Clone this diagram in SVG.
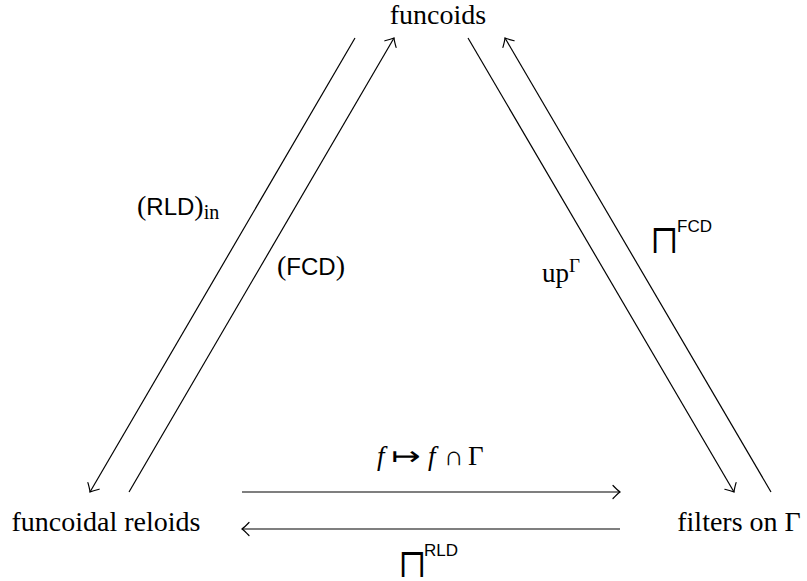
<svg xmlns="http://www.w3.org/2000/svg" width="807" height="581" viewBox="0 0 807 581">
<style>
.node{font-family:"Liberation Serif","Times New Roman",serif;font-size:28px;fill:#000}
.lbl{font-family:"Liberation Serif","Times New Roman",serif;font-size:27px;fill:#000}
.sf{font-family:"Liberation Sans",Arial,sans-serif}
.sup{font-family:"Liberation Sans",Arial,sans-serif;font-size:17px;fill:#000}
.op{font-family:"DejaVu Sans",sans-serif;font-size:31px;fill:#000}
.arr{font-family:"DejaVu Sans",sans-serif;font-size:26px;fill:#000}
.edge{stroke:#000;stroke-width:1.2;fill:none}
</style>
<defs>
<marker id="to" viewBox="-10 -8 12 16" refX="0" refY="0" markerWidth="12" markerHeight="16" markerUnits="userSpaceOnUse" orient="auto">
<path d="M-7,-6.5 Q-2.5,-1.8 0,0 Q-2.5,1.8 -7,6.5" fill="none" stroke="#000" stroke-width="1.2" stroke-linecap="round"/>
</marker>
</defs>
<rect width="807" height="581" fill="#fff"/>
<g id="funcoids"><text class="node" x="438" y="24" text-anchor="middle">funcoids</text></g>
<g id="funcoidal-reloids"><text class="node" x="106" y="531" text-anchor="middle">funcoidal reloids</text></g>
<g id="filters"><text class="node" x="739" y="531" text-anchor="middle">filters on Γ</text></g>
<g id="connectors">
<line class="edge" x1="355" y1="38" x2="90" y2="492" marker-end="url(#to)"/>
<line class="edge" x1="129" y1="492" x2="394" y2="38" marker-end="url(#to)"/>
<line class="edge" x1="468" y1="38" x2="734" y2="492" marker-end="url(#to)"/>
<line class="edge" x1="771" y1="492" x2="505" y2="38" marker-end="url(#to)"/>
<line class="edge" x1="242" y1="492" x2="620" y2="492" marker-end="url(#to)"/>
<line class="edge" x1="620" y1="529" x2="242" y2="529" marker-end="url(#to)"/>
</g>
<g id="labels">
<text class="lbl" x="137" y="215" style="font-size:28px">(<tspan class="sf" style="font-size:24px">RLD</tspan>)<tspan style="font-size:20px" dy="4">in</tspan></text>
<text class="lbl" x="277" y="275" style="font-size:28px">(<tspan class="sf" style="font-size:24px">FCD</tspan>)</text>
<text class="lbl" x="542" y="282">up<tspan style="font-size:19px" dy="-10">Γ</tspan></text>
<text class="op" x="652" y="251">⨅</text>
<text class="sup" x="677" y="232">FCD</text>
<text class="lbl" y="465"><tspan x="377" font-style="italic">f</tspan><tspan x="428" font-style="italic">f</tspan><tspan x="444">∩</tspan><tspan x="468">Γ</tspan></text>
<text class="arr" transform="translate(391,465) scale(1.35,1)">↦</text>
<text class="op" x="400" y="575">⨅</text>
<text class="sup" x="424" y="556">RLD</text>
</g>
</svg>
